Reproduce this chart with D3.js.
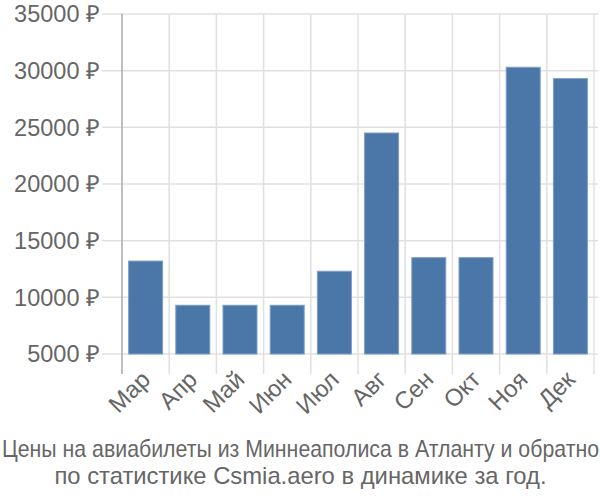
<!DOCTYPE html>
<html>
<head>
<meta charset="utf-8">
<script src="https://cdn.jsdelivr.net/npm/d3@7"></script>
<style>
  body { margin: 0; background: #fff; }
  text { font-family: "Liberation Sans", Arial, sans-serif; fill: #666; }
</style>
</head>
<body>
<svg id="chart" width="600" height="500"></svg>
<script>
// months and average prices (rub)
var months = ["Мар", "Апр", "Май", "Июн", "Июл", "Авг", "Сен", "Окт", "Ноя", "Дек"];
var prices = [13200, 9300, 9300, 9300, 12300, 24500, 13500, 13500, 30300, 29300];
var yTicks = [5000, 10000, 15000, 20000, 25000, 30000, 35000];
var titleLines = ["Цены на авиабилеты из Миннеаполиса в Атланту и обратно",
                  "по статистике Csmia.aero в динамике за год."];

var svg = d3.select("#chart");
var plotLeft = 122, plotRight = 594, plotTop = 14, plotBottom = 354;

var x = d3.scaleBand()
    .domain(months)
    .range([plotLeft, plotRight])
    .paddingInner(0.28)
    .paddingOuter(0.14);

var y = d3.scaleLinear()
    .domain([5000, 35000])
    .range([plotBottom, plotTop]);

// horizontal grid + y labels
var gy = svg.append("g");
gy.selectAll("line")
    .data(yTicks)
    .enter().append("line")
    .attr("x1", 102).attr("x2", 598)
    .attr("y1", function(d) { return y(d); })
    .attr("y2", function(d) { return y(d); })
    .attr("stroke", "#e0e0e0")
    .attr("stroke-width", 1.5);
gy.selectAll("text")
    .data(yTicks)
    .enter().append("text")
    .attr("x", 100)
    .attr("y", function(d) { return y(d); })
    .attr("dy", "0.36em")
    .attr("text-anchor", "end")
    .style("font-size", "23.5px")
    .text(function(d) { return d + " ₽"; });

// vertical grid at band edges
var step = x.step();
var edges = months.map(function(m) { return x(m) - x.paddingOuter() * step + step; });
svg.append("g").selectAll("line")
    .data(edges)
    .enter().append("line")
    .attr("x1", function(d) { return d; })
    .attr("x2", function(d) { return d; })
    .attr("y1", plotTop).attr("y2", plotBottom + 20)
    .attr("stroke", "#e0e0e0")
    .attr("stroke-width", 1.5);

// axis line
svg.append("line")
    .attr("x1", plotLeft).attr("x2", plotLeft)
    .attr("y1", plotTop).attr("y2", plotBottom + 20)
    .attr("stroke", "#aaa")
    .attr("stroke-width", 1.5);

// bars
svg.append("g").selectAll("rect")
    .data(prices)
    .enter().append("rect")
    .attr("x", function(d, i) { return x(months[i]); })
    .attr("width", x.bandwidth())
    .attr("y", function(d) { return y(d); })
    .attr("height", function(d) { return plotBottom - y(d); })
    .attr("fill", "#4a76a8")
    .attr("stroke", "#7d9dc4")
    .attr("stroke-width", 1);

// x labels
svg.append("g").selectAll("text")
    .data(months)
    .enter().append("text")
    .attr("text-anchor", "end")
    .attr("transform", function(d) {
        return "translate(" + (x(d) + x.bandwidth() / 2 + 6) + "," + (plotBottom + 27) + ")rotate(-45)";
    })
    .style("font-size", "24px")
    .text(function(d) { return d; });

// title: first line is squeezed to the chart width
svg.append("g").selectAll("text")
    .data(titleLines)
    .enter().append("text")
    .attr("x", 300.5)
    .attr("y", function(d, i) { return 457 + i * 27; })
    .attr("text-anchor", "middle")
    .style("font-size", "23.8px")
    .each(function(d, i) {
        if (i === 0) d3.select(this).attr("textLength", 597).attr("lengthAdjust", "spacingAndGlyphs");
    })
    .text(function(d) { return d; });
</script>
</body>
</html>
